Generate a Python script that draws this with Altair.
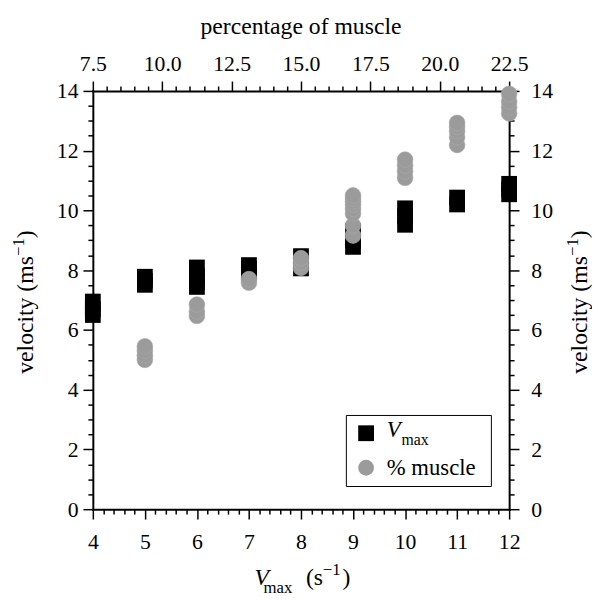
import altair as alt
import pandas as pd

# ---------------- data ----------------
vmax_x = [4, 4, 4, 5, 5, 5, 6, 6, 6, 6, 7, 7, 7, 8, 8, 8, 9, 9, 9,
          10, 10, 10, 11, 11, 12, 12, 12]
vmax_v = [6.50, 6.70, 6.95, 7.51, 7.65, 7.78, 7.44, 7.60, 7.80, 8.09,
          7.90, 8.05, 8.17, 8.06, 8.25, 8.47, 8.78, 9.00, 9.30,
          9.52, 9.80, 10.07, 10.20, 10.43, 10.54, 10.70, 10.89]

pct_x = [9.375, 9.375, 9.375, 9.375,
         11.25, 11.25, 11.25,
         13.125, 13.125,
         15.0, 15.0, 15.0,
         16.875, 16.875, 16.875, 16.875, 16.875, 16.875, 16.875, 16.875,
         18.75, 18.75, 18.75, 18.75,
         20.625, 20.625, 20.625, 20.625, 20.625,
         22.5, 22.5, 22.5, 22.5]
pct_v = [5.00, 5.15, 5.30, 5.45,
         6.47, 6.62, 6.85,
         7.58, 7.70,
         8.08, 8.25, 8.40,
         9.16, 9.50, 9.90, 10.05, 10.20, 10.30, 10.40, 10.50,
         11.09, 11.30, 11.50, 11.70,
         12.19, 12.45, 12.65, 12.80, 12.93,
         13.25, 13.45, 13.65, 13.90]

bottom_ticks = [round(4 + 0.2 * i, 1) for i in range(41)]
top_ticks = [round(7.5 + 0.5 * i, 1) for i in range(31)]
y_ticks = [round(0.5 * i, 1) for i in range(29)]

sq_df = pd.DataFrame({"vmax": vmax_x, "velocity": vmax_v})
ci_df = pd.DataFrame({"pct": pct_x, "velocity": pct_v})
one = pd.DataFrame({"k": [0]})

FONT = "Liberation Serif"
W_PX, H_PX = 422, 424

# Times/Liberation Serif advance widths (per 1000 em)
CW = {" ": 250, "(": 333, ")": 333, "a": 444, "c": 444, "e": 444, "i": 278,
      "l": 278, "m": 778, "o": 500, "s": 389, "t": 278, "v": 500, "y": 500,
      "x": 500, "\u2212": 564, "1": 500}


def tw(s, size):
    return sum(CW.get(c, 500) for c in s) * size / 1000.0


def make_axis(orient, values, test, fmt, pad):
    return alt.Axis(
        orient=orient, values=values, title=None, grid=False,
        tickSize={"condition": {"test": test, "value": 10}, "value": 5},
        labelExpr=f"({test}) ? format(datum.value, '{fmt}') : ''",
        labelOverlap=False, labelFlush=False,
        domainColor="black", domainWidth=2, domainCap="square",
        tickColor="black", tickWidth=1.5,
        labelFont=FONT, labelFontSize=22, labelColor="black", labelPadding=pad,
    )


int_test = "abs(datum.value - round(datum.value)) < 0.001"
top_test = "abs(datum.value / 2.5 - round(datum.value / 2.5)) < 0.001"
y_test = "abs(datum.value / 2 - round(datum.value / 2)) < 0.001"

squares = alt.Chart(sq_df).mark_square(size=256, color="black", opacity=1).encode(
    x=alt.X("vmax:Q", scale=alt.Scale(domain=[4, 12], nice=False, zero=False),
            axis=make_axis("bottom", bottom_ticks, int_test, "d", 13)),
    y=alt.Y("velocity:Q", scale=alt.Scale(domain=[0, 14], nice=False),
            axis=make_axis("left", y_ticks, y_test, "d", 5)),
)

circles = alt.Chart(ci_df).mark_circle(size=256, color="#9b9b9b", opacity=1,
                                       stroke="#aaaaaa", strokeWidth=0.6).encode(
    x=alt.X("pct:Q", scale=alt.Scale(domain=[7.5, 22.5], nice=False, zero=False),
            axis=make_axis("top", top_ticks, top_test, ".1f", 6)),
    y=alt.Y("velocity:Q", scale=alt.Scale(domain=[0, 14], nice=False),
            axis=make_axis("right", y_ticks, y_test, "d", 12)),
)


def txt(text, x, y, size, style="normal", angle=0, align="left", baseline="alphabetic"):
    return alt.Chart(one).mark_text(
        text=text, font=FONT, fontSize=size, fontStyle=style, angle=angle,
        align=align, baseline=baseline, color="black",
    ).encode(x=alt.value(x), y=alt.value(y))


layers = [squares, circles]

# legend box + symbols + labels
layers.append(alt.Chart(one).mark_rect(fill="white", stroke="black", strokeWidth=1).encode(
    x=alt.value(257), x2=alt.value(404), y=alt.value(329), y2=alt.value(401)))
layers.append(alt.Chart(one).mark_square(size=256, color="black", opacity=1).encode(
    x=alt.value(277), y=alt.value(347)))
layers.append(alt.Chart(one).mark_circle(size=256, color="#9b9b9b", opacity=1).encode(
    x=alt.value(277), y=alt.value(382)))
layers.append(txt("V", 298, 351, 23, "italic"))
layers.append(txt("max", 313, 359, 16))
layers.append(txt("% muscle", 298, 389, 23))

# top title
layers.append(txt("percentage of muscle", W_PX / 2, -58, 24, align="center"))

# bottom title: V_max (s^-1)
layers.append(txt("V", 164, 501, 24, "italic"))
layers.append(txt("max", 173, 509, 17))
layers.append(txt("(s", 216, 501, 24))
layers.append(txt("\u22121", 233, 491, 17))
layers.append(txt(")", 253, 501, 24))

# side titles (rotated, reading bottom to top)
main = "velocity (ms"
L1 = tw(main, 24)
L2 = tw("\u22121", 17)
L3 = tw(")", 24)
total = L1 + L2 + L3
start = H_PX / 2 + 2 + total / 2
for bx in (-61, 501):
    layers.append(txt(main, bx, start, 24, angle=270))
    layers.append(txt("\u22121", bx - 9, start - L1, 17, angle=270))
    layers.append(txt(")", bx, start - L1 - L2, 24, angle=270))

chart = alt.layer(*layers).resolve_scale(
    x="independent", y="independent"
).properties(
    width=W_PX, height=H_PX,
    autosize=alt.AutoSizeParams(type="none"),
    padding={"left": 86, "top": 80, "right": 84, "bottom": 88},
    background="white",
).configure_view(stroke=None).configure_axis(
    labelFont=FONT, labelFontSize=22, labelColor="black"
)

chart.save("out.html", embed_options={"renderer": "svg", "actions": False})
